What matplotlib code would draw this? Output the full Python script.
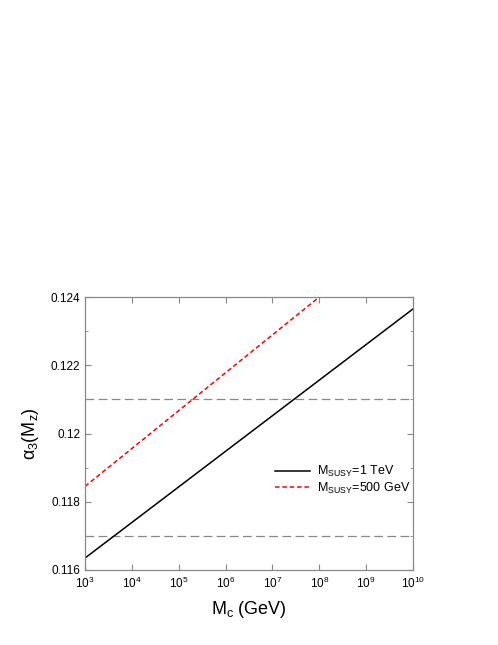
import numpy as np
import matplotlib
matplotlib.use("Agg")
import matplotlib.pyplot as plt
from matplotlib.ticker import LogLocator, MultipleLocator, FuncFormatter

plt.rcParams['font.family'] = ['Liberation Sans', 'DejaVu Sans']
plt.rcParams['mathtext.fontset'] = 'custom'
plt.rcParams['mathtext.rm'] = 'Liberation Sans'
plt.rcParams['mathtext.it'] = 'Liberation Sans'
plt.rcParams['mathtext.bf'] = 'Liberation Sans:bold'

# Data
mc_1tev = [1e3, 1e10]
alpha_1tev = [0.11635, 0.12365]
mc_500 = [1e3, 1e8]
alpha_500 = [0.11845, 0.1240]
hlines = [0.117, 0.121]
labels = [r'M$_{\rm SUSY}$=1 TeV', r'M$_{\rm SUSY}$=500 GeV']

fig = plt.figure(figsize=(4.98, 6.45), dpi=100)
ax = fig.add_axes([85/498, 1-570/645, (413-85)/498, (570-297)/645])

for y in hlines:
    ax.axhline(y, color='#888888', lw=0.9, dashes=(7, 3.5))
ax.plot(mc_1tev, alpha_1tev, color='black', lw=1.1, label=labels[0])
ax.plot(mc_500, alpha_500, color='red', lw=1.1, dashes=(3, 1.8), label=labels[1])

ax.set_xscale('log')
ax.set_xlim(1e3, 1e10)
ax.set_ylim(0.116, 0.124)
ax.xaxis.set_major_locator(LogLocator(base=10, numticks=20))
ax.xaxis.set_minor_locator(plt.NullLocator())
ax.yaxis.set_major_locator(MultipleLocator(0.002))
ax.yaxis.set_minor_locator(MultipleLocator(0.001))
ax.yaxis.set_major_formatter(FuncFormatter(lambda v, p: '0.12' if abs(v-0.12) < 1e-9 else f'{v:.3f}'))
ax.xaxis.set_major_formatter(FuncFormatter(lambda v, p: r'10$^{%d}$' % round(np.log10(v))))
ax.yaxis.get_offset_text().set_visible(False)
ax.xaxis.get_offset_text().set_visible(False)

for s in ax.spines.values():
    s.set_color('#888888')
    s.set_linewidth(0.9)
ax.tick_params(which='both', direction='in', top=True, right=True, color='#888888', labelsize=8.5)
ax.tick_params(which='major', length=4)
ax.tick_params(which='minor', length=2.5)
ax.tick_params(axis='x', pad=4)

ax.set_xlabel(r'M$_{\rm c}$ (GeV)', fontsize=13, labelpad=6)
ax.set_ylabel(r'$\alpha_3$(M$_{\rm z}$)', fontsize=13, labelpad=7)

leg = ax.legend(loc='upper left', bbox_to_anchor=(0.56, 0.41), frameon=False, fontsize=9,
                handlelength=2.8, handletextpad=0.6, labelspacing=0.1, borderpad=0)

fig.savefig('out.png', dpi=100)
